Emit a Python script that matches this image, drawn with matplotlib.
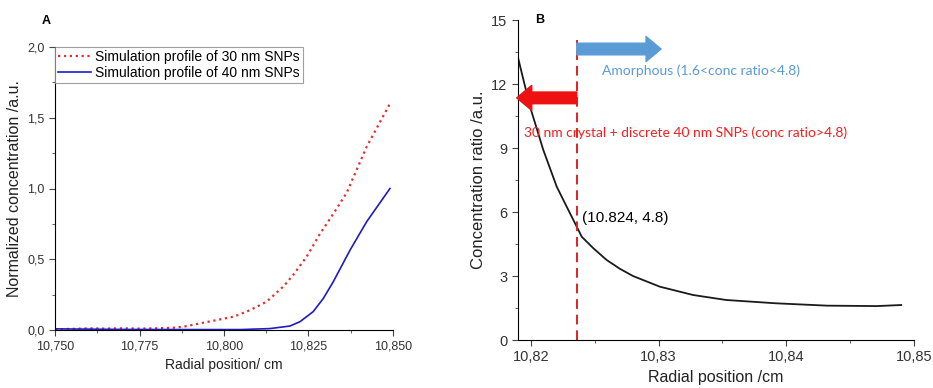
import numpy as np
import matplotlib.pyplot as plt

plt.rcParams['font.family'] = ['Liberation Sans', 'DejaVu Sans']

# panel A data
x30 = [10.750, 10.755, 10.760, 10.765, 10.770, 10.775, 10.780, 10.785, 10.788, 10.7929,
       10.7978, 10.8028, 10.8077, 10.8126, 10.8175, 10.8205, 10.8245, 10.8284, 10.8323,
       10.8363, 10.8422, 10.8491]
y30 = [0.005, 0.008, 0.012, 0.010, 0.012, 0.010, 0.012, 0.016, 0.023, 0.047,
       0.07, 0.094, 0.14, 0.20, 0.306, 0.39, 0.52, 0.68, 0.82,
       0.97, 1.295, 1.60]
x40 = [10.750, 10.770, 10.790, 10.805, 10.8136, 10.8195, 10.8225, 10.8264, 10.8294,
       10.8323, 10.8373, 10.8422, 10.8491]
y40 = [0.008, 0.004, 0.003, 0.003, 0.01, 0.028, 0.059, 0.13, 0.224,
       0.34, 0.565, 0.765, 1.0]

# panel B data
xr = [10.81895, 10.81994, 10.82098, 10.82203, 10.82281, 10.8236, 10.82399, 10.8249,
      10.82594, 10.827, 10.828, 10.8301, 10.8327, 10.8353, 10.8392, 10.8432, 10.8471, 10.849]
yr = [13.36, 10.94, 8.91, 7.19, 6.25, 5.31, 4.84, 4.30,
      3.75, 3.33, 3.0, 2.5, 2.11, 1.875, 1.72, 1.61, 1.59, 1.64]
x_cut = 10.8236

fig = plt.figure(figsize=(9.33, 3.88), dpi=100)

# ---- A
ax = fig.add_axes([55/933, 58/388, 338/933, 283/388])
ax.plot(x30, y30, ':', color='#e03030', lw=1.6, label='Simulation profile of 30 nm SNPs')
ax.plot(x40, y40, '-', color='#1c1cc0', lw=1.2, label='Simulation profile of 40 nm SNPs')
ax.set_xlim(10.75, 10.85)
ax.set_ylim(0, 2.0)
ax.set_xticks([10.75, 10.775, 10.80, 10.825, 10.85])
ax.set_xticklabels(['10,750', '10,775', '10,800', '10,825', '10,850'])
ax.set_xticks(np.arange(10.7625, 10.85, 0.025), minor=True)
ax.set_yticks([0, 0.5, 1.0, 1.5, 2.0])
ax.set_yticklabels(['0,0', '0,5', '1,0', '1,5', '2,0'])
ax.set_yticks([0.25, 0.75, 1.25, 1.75], minor=True)
ax.spines['top'].set_visible(False)
ax.spines['right'].set_visible(False)
ax.tick_params(labelsize=9, length=4, color='#444444', labelcolor='#333333')
ax.tick_params(which='minor', length=2.5, color='#444444')
ax.set_xlabel('Radial position/ cm', fontsize=10, color='#222222')
ax.set_ylabel('Normalized concentration /a.u.', fontsize=11.5, color='#222222')
leg = ax.legend(loc='upper left', fontsize=10, frameon=True, fancybox=False,
                borderaxespad=0, handlelength=2.4, borderpad=0.2, labelspacing=0.15,
                handletextpad=0.3)
leg.get_frame().set_edgecolor('#888888')
leg.get_frame().set_linewidth(0.8)
fig.text(42/933, 1 - 21/388, 'A', fontsize=9, fontweight='bold', va='center')

# ---- B
bx = fig.add_axes([518/933, 48/388, 396/933, 320/388])
bx.plot(xr, yr, '-', color='#1a1a1a', lw=1.3)
bx.plot([x_cut, x_cut], [0, 14.06], '--', color='#e02020', lw=1.4, dashes=(5, 3))
bx.set_xlim(10.819, 10.85)
bx.set_ylim(0, 15)
bx.set_xticks([10.82, 10.83, 10.84, 10.85])
bx.set_xticklabels(['10,82', '10,83', '10,84', '10,85'])
bx.set_xticks([10.825, 10.835, 10.845], minor=True)
bx.set_yticks([0, 3, 6, 9, 12, 15])
bx.set_yticks([1.5, 4.5, 7.5, 10.5, 13.5], minor=True)
bx.spines['top'].set_visible(False)
bx.spines['right'].set_visible(False)
bx.tick_params(labelsize=10.5, length=4, color='#444444', labelcolor='#333333')
bx.tick_params(which='minor', length=2.5, color='#444444')
bx.set_xlabel('Radial position /cm', fontsize=11.5, color='#222222')
bx.set_ylabel('Concentration ratio /a.u.', fontsize=12, color='#222222')

arrow_style = 'simple,head_width=1.5,head_length=0.9,tail_width=0.7'
bx.annotate('', xy=(10.8302, 13.64), xytext=(x_cut, 13.64), annotation_clip=False,
            arrowprops=dict(arrowstyle=arrow_style, color='#5b9bd5',
                            shrinkA=0, shrinkB=0, mutation_scale=12))
bx.annotate('', xy=(10.8189, 11.35), xytext=(x_cut, 11.35), annotation_clip=False,
            arrowprops=dict(arrowstyle=arrow_style, color='#ee1111',
                            shrinkA=0, shrinkB=0, mutation_scale=12))
bx.text(10.82558, 12.6, 'Amorphous (1.6<conc ratio<4.8)', color='#5b9bd5',
        fontsize=10, family=['Lato', 'DejaVu Sans'], va='center')
bx.text(10.81949, 9.7, '30 nm crystal + discrete 40 nm SNPs (conc ratio>4.8)', color='#ee2222',
        fontsize=10, family=['Lato', 'DejaVu Sans'], va='center')
bx.text(10.8240, 5.7, '(10.824, 4.8)', fontsize=11, va='center')
fig.text(535/933, 1 - 20/388, 'B', fontsize=9, fontweight='bold', va='center')

fig.savefig('out.png', dpi=100)
